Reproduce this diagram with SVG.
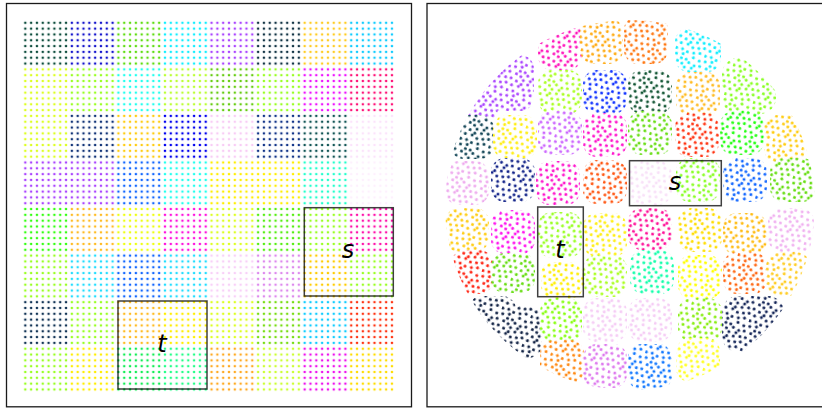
<svg xmlns="http://www.w3.org/2000/svg" width="822" height="409" viewBox="0 0 822 409">
<style>
.frame{fill:none;stroke:#1a1a1a;stroke-width:1.3}
.box{fill:none;stroke:#000;stroke-opacity:.75;stroke-width:1.5}
.lbl{font-family:"DejaVu Sans",sans-serif;font-style:italic;font-size:24px;fill:#000;text-anchor:middle}
</style>
<defs>
<pattern id="gridDots" patternUnits="userSpaceOnUse" x="22.39" y="19.89" width="5.82" height="5.82"><circle cx="2.91" cy="2.91" r="1.3" fill="#fff"/></pattern>
<mask id="gridMask" maskUnits="userSpaceOnUse" x="0" y="0" width="822" height="409"><rect x="22.39" y="19.89" width="372.5" height="372.5" fill="url(#gridDots)"/></mask>
<pattern id="randDots" patternUnits="userSpaceOnUse" width="30" height="30" patternTransform="rotate(17)">
<g fill="#fff">
<circle cx="2.5" cy="3" r="1.5"/><circle cx="9" cy="1.5" r="1.5"/><circle cx="13.5" cy="6" r="1.5"/><circle cx="20" cy="2.5" r="1.5"/><circle cx="26.5" cy="4" r="1.5"/>
<circle cx="5.5" cy="9.5" r="1.5"/><circle cx="10.5" cy="11" r="1.5"/><circle cx="17" cy="8.5" r="1.5"/><circle cx="23" cy="10" r="1.5"/><circle cx="28.5" cy="9" r="1.5"/>
<circle cx="1.5" cy="15" r="1.5"/><circle cx="7.5" cy="16.5" r="1.5"/><circle cx="14" cy="14" r="1.5"/><circle cx="19.5" cy="17" r="1.5"/><circle cx="26" cy="15.5" r="1.5"/>
<circle cx="4" cy="21.5" r="1.5"/><circle cx="11" cy="21" r="1.5"/><circle cx="16.5" cy="23" r="1.5"/><circle cx="22.5" cy="22" r="1.5"/><circle cx="28" cy="20.5" r="1.5"/>
<circle cx="1" cy="27.5" r="1.5"/><circle cx="7" cy="27" r="1.5"/><circle cx="12.5" cy="28.5" r="1.5"/><circle cx="19" cy="28" r="1.5"/><circle cx="25" cy="26.5" r="1.5"/>
<circle cx="8.5" cy="6" r="1.5"/><circle cx="21" cy="13" r="1.5"/><circle cx="13" cy="18.5" r="1.5"/>
</g>
</pattern>
<mask id="randMask" maskUnits="userSpaceOnUse" x="0" y="0" width="822" height="409"><rect x="427" y="0" width="395" height="409" fill="url(#randDots)"/></mask>
<clipPath id="disk"><circle cx="630" cy="205" r="185"/></clipPath>
</defs>
<rect x="0" y="0" width="822" height="409" fill="#fff"/>

<g id="left-grid" mask="url(#gridMask)">
<rect x="22.4" y="19.9" width="46.6" height="46.6" fill="#0d4d3d"/>
<rect x="68.96" y="19.9" width="46.6" height="46.6" fill="#1414cc"/>
<rect x="115.52" y="19.9" width="46.6" height="46.6" fill="#5fdd11"/>
<rect x="162.08" y="19.9" width="46.6" height="46.6" fill="#11eeff"/>
<rect x="208.64" y="19.9" width="46.6" height="46.6" fill="#aa44ff"/>
<rect x="255.2" y="19.9" width="46.6" height="46.6" fill="#113344"/>
<rect x="301.76" y="19.9" width="46.6" height="46.6" fill="#ffcc22"/>
<rect x="348.32" y="19.9" width="46.6" height="46.6" fill="#11ccff"/>

<rect x="22.4" y="66.46" width="46.6" height="46.6" fill="#ddff22"/>
<rect x="68.96" y="66.46" width="46.6" height="46.6" fill="#99ff22"/>
<rect x="115.52" y="66.46" width="46.6" height="46.6" fill="#22ffee"/>
<rect x="162.08" y="66.46" width="46.6" height="46.6" fill="#bbff33"/>
<rect x="208.64" y="66.46" width="46.6" height="46.6" fill="#66cc11"/>
<rect x="255.2" y="66.46" width="46.6" height="46.6" fill="#99ff22"/>
<rect x="301.76" y="66.46" width="46.6" height="46.6" fill="#ee11ff"/>
<rect x="348.32" y="66.46" width="46.6" height="46.6" fill="#ff1177"/>

<rect x="22.4" y="113.02" width="46.6" height="46.6" fill="#ddff22"/>
<rect x="68.96" y="113.02" width="46.6" height="46.6" fill="#113377"/>
<rect x="115.52" y="113.02" width="46.6" height="46.6" fill="#ffcc11"/>
<rect x="162.08" y="113.02" width="46.6" height="46.6" fill="#0000ee"/>
<rect x="208.64" y="113.02" width="46.6" height="46.6" fill="#f8ccf5"/>
<rect x="255.2" y="113.02" width="46.6" height="46.6" fill="#113388"/>
<rect x="301.76" y="113.02" width="46.6" height="46.6" fill="#115555"/>
<rect x="348.32" y="113.02" width="46.6" height="46.6" fill="#fbe3fb"/>

<rect x="22.4" y="159.58" width="46.6" height="46.6" fill="#aa44ff"/>
<rect x="68.96" y="159.58" width="46.6" height="46.6" fill="#aa44ff"/>
<rect x="115.52" y="159.58" width="46.6" height="46.6" fill="#1166ff"/>
<rect x="162.08" y="159.58" width="46.6" height="46.6" fill="#22ffee"/>
<rect x="208.64" y="159.58" width="46.6" height="46.6" fill="#ffee00"/>
<rect x="255.2" y="159.58" width="46.6" height="46.6" fill="#ffee00"/>
<rect x="301.76" y="159.58" width="46.6" height="46.6" fill="#22ffcc"/>
<rect x="348.32" y="159.58" width="46.6" height="46.6" fill="#fdf0fd"/>

<rect x="22.4" y="206.14" width="46.6" height="46.6" fill="#33ff11"/>
<rect x="68.96" y="206.14" width="46.6" height="46.6" fill="#ffbb22"/>
<rect x="115.52" y="206.14" width="46.6" height="46.6" fill="#eeff11"/>
<rect x="162.08" y="206.14" width="46.6" height="46.6" fill="#ff11dd"/>
<rect x="208.64" y="206.14" width="46.6" height="46.6" fill="#ddff22"/>
<rect x="255.2" y="206.14" width="46.6" height="46.6" fill="#55ee11"/>
<rect x="301.76" y="206.14" width="46.6" height="46.6" fill="#99ff22"/>
<rect x="348.32" y="206.14" width="46.6" height="46.6" fill="#ff11aa"/>

<rect x="22.4" y="252.7" width="46.6" height="46.6" fill="#99ff22"/>
<rect x="68.96" y="252.7" width="46.6" height="46.6" fill="#22ddff"/>
<rect x="115.52" y="252.7" width="46.6" height="46.6" fill="#1166ff"/>
<rect x="162.08" y="252.7" width="46.6" height="46.6" fill="#22ddff"/>
<rect x="208.64" y="252.7" width="46.6" height="46.6" fill="#f8d0f8"/>
<rect x="255.2" y="252.7" width="46.6" height="46.6" fill="#dd88ee"/>
<rect x="301.76" y="252.7" width="46.6" height="46.6" fill="#ffcc00"/>
<rect x="348.32" y="252.7" width="46.6" height="46.6" fill="#99ff22"/>

<rect x="22.4" y="299.26" width="46.6" height="46.6" fill="#113355"/>
<rect x="68.96" y="299.26" width="46.6" height="46.6" fill="#99ff22"/>
<rect x="115.52" y="299.26" width="46.6" height="46.6" fill="#ffbb22"/>
<rect x="162.08" y="299.26" width="46.6" height="46.6" fill="#ffee00"/>
<rect x="208.64" y="299.26" width="46.6" height="46.6" fill="#ddff22"/>
<rect x="255.2" y="299.26" width="46.6" height="46.6" fill="#77dd11"/>
<rect x="301.76" y="299.26" width="46.6" height="46.6" fill="#11ccff"/>
<rect x="348.32" y="299.26" width="46.6" height="46.6" fill="#ff3311"/>

<rect x="22.4" y="345.82" width="46.6" height="46.6" fill="#99ff22"/>
<rect x="68.96" y="345.82" width="46.6" height="46.6" fill="#ffee00"/>
<rect x="115.52" y="345.82" width="46.6" height="46.6" fill="#11ee55"/>
<rect x="162.08" y="345.82" width="46.6" height="46.6" fill="#22ff88"/>
<rect x="208.64" y="345.82" width="46.6" height="46.6" fill="#ffaa22"/>
<rect x="255.2" y="345.82" width="46.6" height="46.6" fill="#ccff33"/>
<rect x="301.76" y="345.82" width="46.6" height="46.6" fill="#ee11ee"/>
<rect x="348.32" y="345.82" width="46.6" height="46.6" fill="#ffdd00"/>
</g>

<g id="right-cloud" clip-path="url(#disk)">
<g mask="url(#randMask)">
<rect x="458" y="82" width="40" height="40" rx="14" fill="#aa44ff"/>
<rect x="538" y="22" width="44" height="48" rx="14" fill="#ff11bb"/>
<rect x="580" y="18" width="43" height="46" rx="14" fill="#ffaa11"/>
<rect x="624" y="16" width="44" height="48" rx="14" fill="#ff7711"/>
<rect x="675" y="28" width="46" height="44" rx="14" fill="#11eeff"/>
<rect x="488" y="55" width="46" height="56" rx="14" fill="#aa44ff"/>
<rect x="538" y="70" width="44" height="44" rx="14" fill="#aaff22"/>
<rect x="583" y="70" width="44" height="44" rx="14" fill="#1133ff"/>
<rect x="628" y="70" width="44" height="44" rx="14" fill="#115533"/>
<rect x="676" y="72" width="44" height="44" rx="14" fill="#ffbb22"/>
<rect x="722" y="58" width="54" height="56" rx="16" fill="#88ff22"/>
<rect x="450" y="115" width="44" height="44" rx="14" fill="#114455"/>
<rect x="493" y="115" width="44" height="44" rx="14" fill="#ffee11"/>
<rect x="538" y="111" width="44" height="44" rx="14" fill="#cc66ff"/>
<rect x="583" y="113" width="44" height="44" rx="14" fill="#ff11cc"/>
<rect x="628" y="111" width="44" height="44" rx="14" fill="#66dd11"/>
<rect x="675" y="113" width="44" height="44" rx="14" fill="#ff3311"/>
<rect x="720" y="111" width="44" height="44" rx="14" fill="#22ff11"/>
<rect x="764" y="115" width="44" height="48" rx="14" fill="#ffcc11"/>
<rect x="445" y="161" width="44" height="44" rx="14" fill="#eeaaee"/>
<rect x="491" y="158" width="44" height="44" rx="14" fill="#112288"/>
<rect x="536" y="161" width="44" height="44" rx="14" fill="#ff11cc"/>
<rect x="583" y="160" width="44" height="44" rx="14" fill="#ff5511"/>
<rect x="628" y="161" width="44" height="44" rx="14" fill="#f8e0f8"/>
<rect x="676" y="158" width="44" height="44" rx="14" fill="#88ff22"/>
<rect x="723" y="158" width="44" height="44" rx="14" fill="#1166ff"/>
<rect x="770" y="158" width="46" height="44" rx="14" fill="#66dd11"/>
<rect x="445" y="208" width="44" height="44" rx="14" fill="#ffcc11"/>
<rect x="491" y="210" width="44" height="44" rx="14" fill="#ff11ee"/>
<rect x="538" y="212" width="44" height="46" rx="14" fill="#99ff22"/>
<rect x="583" y="213" width="44" height="44" rx="14" fill="#ffee11"/>
<rect x="628" y="208" width="44" height="42" rx="14" fill="#ff1199"/>
<rect x="678" y="208" width="44" height="44" rx="14" fill="#ffdd00"/>
<rect x="723" y="213" width="44" height="42" rx="14" fill="#ffbb11"/>
<rect x="768" y="208" width="46" height="44" rx="14" fill="#f0b0f0"/>
<rect x="451" y="250" width="42" height="44" rx="14" fill="#ff2211"/>
<rect x="491" y="253" width="44" height="40" rx="14" fill="#66dd11"/>
<rect x="541" y="262" width="42" height="36" rx="12" fill="#ffee00"/>
<rect x="583" y="255" width="44" height="42" rx="14" fill="#aaff22"/>
<rect x="630" y="250" width="44" height="44" rx="14" fill="#11ffaa"/>
<rect x="678" y="255" width="44" height="44" rx="14" fill="#ffff00"/>
<rect x="723" y="252" width="44" height="42" rx="14" fill="#ff6611"/>
<rect x="766" y="252" width="44" height="44" rx="14" fill="#ffcc22"/>
<rect x="468" y="296" width="48" height="36" rx="14" fill="#112244"/>
<rect x="496" y="306" width="46" height="52" rx="14" fill="#112244"/>
<rect x="540" y="298" width="42" height="44" rx="14" fill="#88ff11"/>
<rect x="583" y="298" width="44" height="44" rx="14" fill="#f5ccf5"/>
<rect x="628" y="298" width="44" height="44" rx="14" fill="#f5ccf5"/>
<rect x="678" y="298" width="44" height="44" rx="14" fill="#88ee11"/>
<rect x="722" y="296" width="62" height="56" rx="16" fill="#112255"/>
<rect x="540" y="340" width="44" height="44" rx="14" fill="#ff8811"/>
<rect x="583" y="344" width="44" height="44" rx="14" fill="#dd77ee"/>
<rect x="628" y="344" width="44" height="46" rx="14" fill="#1177ff"/>
<rect x="676" y="338" width="44" height="44" rx="14" fill="#ffff22"/>
</g>
</g>

<rect class="frame" x="6.5" y="3.5" width="405" height="403.3"/>
<rect class="frame" x="427" y="3.5" width="400" height="403.3"/>

<rect class="box" x="304.3" y="207.7" width="89" height="88.3"/>
<text class="lbl" x="348" y="258">s</text>
<rect class="box" x="118" y="301" width="89" height="88"/>
<text class="lbl" x="162" y="352">t</text>

<rect class="box" x="629.5" y="160.7" width="91.8" height="45"/>
<text class="lbl" x="675" y="190">s</text>
<rect class="box" x="537.7" y="207" width="45.6" height="89.7"/>
<text class="lbl" x="560" y="258">t</text>
</svg>
